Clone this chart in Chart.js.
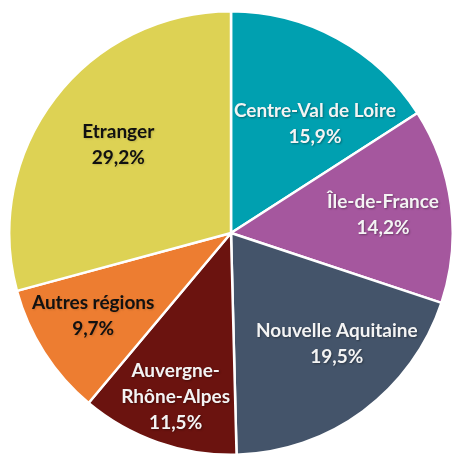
<!DOCTYPE html>
<html lang="fr">
<head>
<meta charset="utf-8">
<title>Répartition par origine</title>
<script src="https://cdn.jsdelivr.net/npm/chart.js@4/dist/chart.umd.min.js"></script>
<style>
  html, body { margin: 0; padding: 0; background: #fff; overflow: hidden; }
  body { width: 452px; height: 457px; position: relative; }
  .wrap { position: absolute; left: 8px; top: 10px; width: 446px; height: 446px; }
</style>
</head>
<body>
<div class="wrap"><canvas id="myChart"></canvas></div>
<script>
'use strict';

const regions = [
  'Centre-Val de Loire',
  'Île-de-France',
  'Nouvelle Aquitaine',
  ['Auvergne-', 'Rhône-Alpes'],
  'Autres régions',
  'Etranger',
];
const shares = [15.9, 14.2, 19.5, 11.5, 9.7, 29.2];
const sliceColors = ['#00A0B0', '#A5579E', '#44546A', '#6B130F', '#ED7D31', '#DDD254'];
const textColors = ['#f4f4f4', '#f4f4f4', '#f4f4f4', '#f4f4f4', '#111111', '#111111'];

// where each label sits: fraction of radius, and a small angle nudge (degrees)
const labelDist = [0.62, 0.69, 0.69, 0.78, 0.725, 0.645];
const labelNudge = [9, 0.4, -7.2, -0.6, 1.6, 0.5];

const fmt = (v) => v.toFixed(1).replace('.', ',') + '%';

const sliceLabels = {
  id: 'sliceLabels',
  afterDatasetsDraw(chart) {
    const { ctx } = chart;
    const meta = chart.getDatasetMeta(0);
    ctx.save();
    ctx.font = 'bold 19px Lato';
    ctx.textAlign = 'center';
    ctx.textBaseline = 'middle';
    meta.data.forEach((arc, i) => {
      const p = arc.getProps(['x', 'y', 'startAngle', 'endAngle', 'outerRadius'], true);
      const mid = (p.startAngle + p.endAngle) / 2 + (labelNudge[i] * Math.PI) / 180;
      const cx = p.x + Math.cos(mid) * p.outerRadius * labelDist[i];
      const cy = p.y + Math.sin(mid) * p.outerRadius * labelDist[i];
      const lines = [].concat(regions[i], fmt(shares[i]));
      const lh = 26;
      const top = cy - ((lines.length - 1) * lh) / 2;
      ctx.fillStyle = textColors[i];
      ctx.shadowColor = textColors[i] === '#111111' ? 'rgba(0,0,0,0.15)' : 'rgba(0,0,0,0.35)';
      ctx.shadowBlur = 2;
      ctx.shadowOffsetX = 1;
      ctx.shadowOffsetY = 1;
      lines.forEach((line, j) => ctx.fillText(line, cx, top + j * lh));
    });
    ctx.restore();
  },
};

const ctx = document.getElementById('myChart');

new Chart(ctx, {
  type: 'pie',
  data: {
    labels: regions.map((r) => [].concat(r).join('')),
    datasets: [
      {
        data: shares,
        backgroundColor: sliceColors,
        borderColor: '#ffffff',
        borderWidth: 2.5,
      },
    ],
  },
  options: {
    responsive: true,
    maintainAspectRatio: false,
    animation: false,
    layout: { padding: 0 },
    plugins: {
      legend: { display: false },
      tooltip: { enabled: false },
    },
  },
  plugins: [sliceLabels],
});
</script>
</body>
</html>
